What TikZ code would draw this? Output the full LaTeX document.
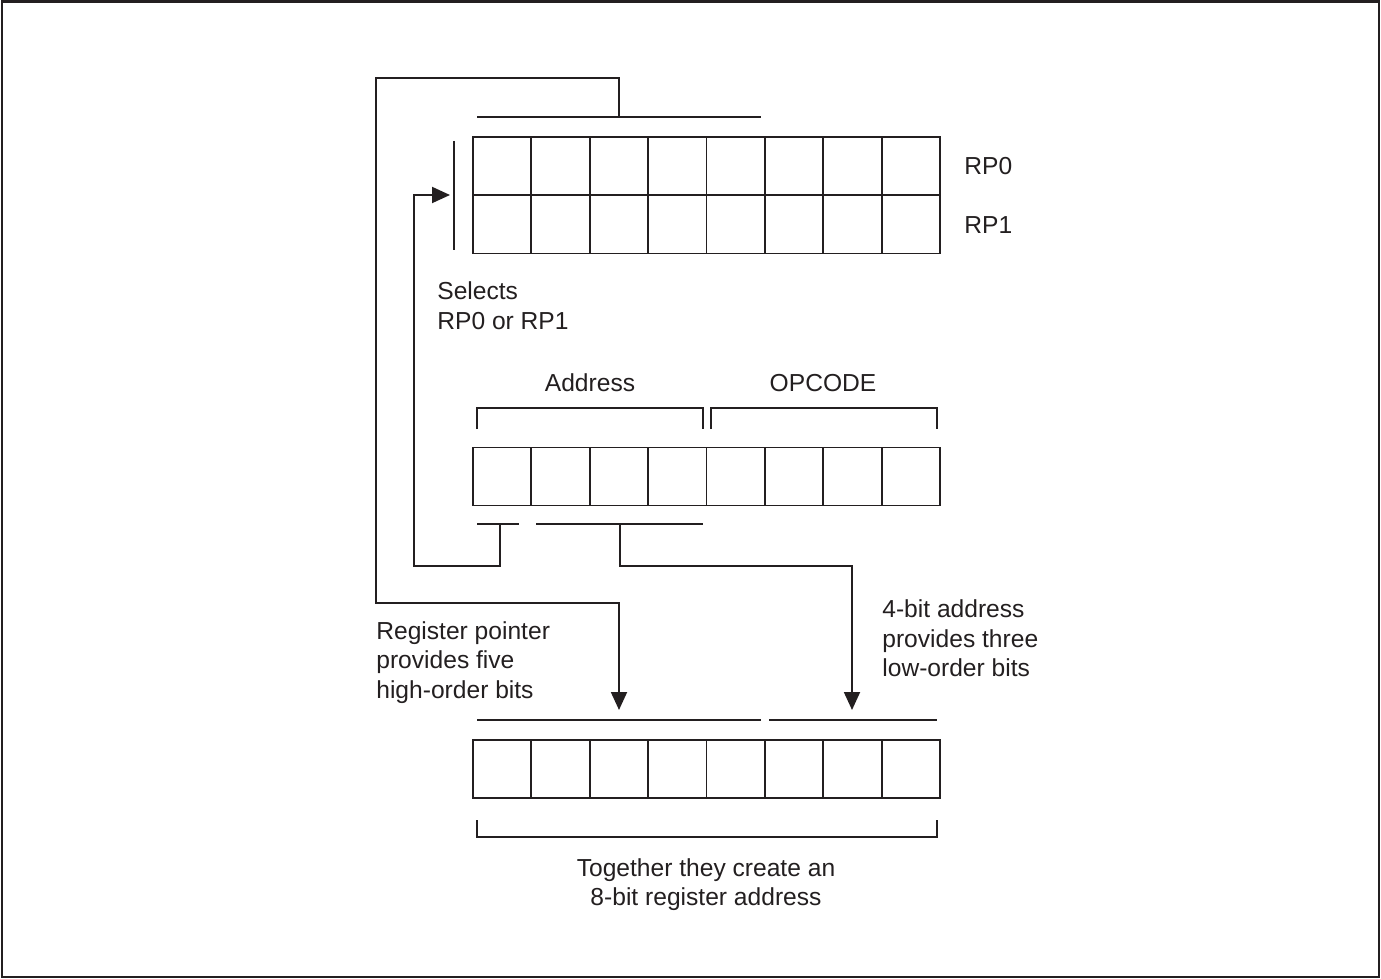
\documentclass[tikz,border=0pt]{standalone}
\usepackage{fontspec}
\setmainfont{Liberation Sans}
\usepackage{xcolor}
\usetikzlibrary{arrows.meta,positioning,calc}
\definecolor{ink}{HTML}{231F20}

\begin{document}
\begin{tikzpicture}[x=0.02cm, y=-0.02cm,
  cell/.style={rectangle, draw=ink, line width=1.1pt, minimum width=1.1675cm, minimum height=1.16cm, inner sep=0pt},
  bar/.style={draw=ink, line width=1.1pt},
  line/.style={draw=ink, line width=1.1pt, -{Triangle[length=3.6mm, width=3.2mm]}},
  label/.style={text=ink, font=\fontsize{14}{16.8}\selectfont, inner sep=0pt, align=left}]

  \useasboundingbox (0,0) rectangle (1381,979);
  \draw[ink, line width=1.5pt] (2,1.5) rectangle (1379,977);

  % register pointers RP0 / RP1
  \foreach \i in {1,...,8} {
    \node [cell] (rpa-\i) at ({473+(\i-0.5)*58.375}, 166) {};
    \node [cell] (rpb-\i) at ({473+(\i-0.5)*58.375}, 224.5) {};
  }
  \node [label, anchor=west] (rp0) at (964,166) {RP0};
  \node [label, anchor=west] (rp1) at (964,225) {RP1};

  % instruction: address + opcode
  \foreach \i in {1,...,8}
    \node [cell] (ins-\i) at ({473+(\i-0.5)*58.375}, 476.5) {};
  \node [label] (addr) at (590,383) {Address};
  \node [label] (opc) at (823,383) {OPCODE};
  \path [bar] (477,429) -- (477,408) -- (703,408) -- (703,429);
  \path [bar] (711,429) -- (711,408) -- (937,408) -- (937,429);

  % resulting register address
  \foreach \i in {1,...,8}
    \node [cell] (reg-\i) at ({473+(\i-0.5)*58.375}, 769) {};
  \path [bar] (477,720) -- (761,720);
  \path [bar] (769,720) -- (937,720);
  \path [bar] (477,820) -- (477,837) -- (937,837) -- (937,820);

  % selector bar and register bars
  \path [bar] (454,141) -- (454,250);
  \path [bar] (477,117) -- (761,117);
  \path [bar] (477,524) -- (519,524);
  \path [bar] (536,524) -- (703,524);

  \coordinate (rpbar) at (619,117);
  \coordinate (selbar) at (500,524);
  \coordinate (lobar) at (620,524);
  \coordinate (seltip) at (450,195);
  \coordinate (hitip) at (619,710);
  \coordinate (lotip) at (852,710);

  \path [line] (rpbar) -- (619,78) -| (376,603) -| (hitip);
  \path [line] (selbar) |- (414,566) |- (seltip);
  \path [line] (lobar) -- (620,566) -| (lotip);

  \node [label, anchor=west] (sel) at (437,305.5) {Selects\\RP0 or RP1};
  \node [label, anchor=west] (hi) at (376,662.5) {Register pointer\\provides five\\high-order bits};
  \node [label, anchor=west] (lo) at (882,638.5) {4-bit address\\provides three\\low-order bits};
  \node [label, align=center] (tog) at (706,884.5) {Together they create an\\8-bit register address};
\end{tikzpicture}
\end{document}
